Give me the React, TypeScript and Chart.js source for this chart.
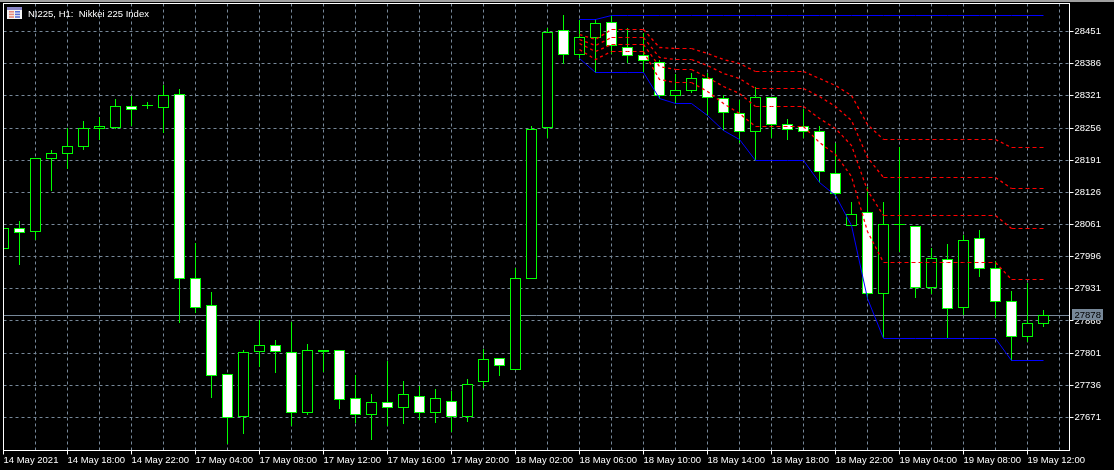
import React, { useEffect, useRef } from "react";
import { Chart, registerables } from "chart.js";

Chart.register(...registerables);

const titleText = "NI225, H1:  Nikkei 225 Index";
const lastPrice = 27878;

const opens = [28012,28052,28047,28194,28204,28218,28254,28258,28299,28301,28297,28323,27951,27897,27757,27673,27804,27816,27802,27681,27806,27806,27709,27677,27701,27692,27713,27682,27703,27672,27744,27790,27768,27952,28257,28453,28404,28438,28469,28419,28402,28388,28322,28332,28356,28316,28285,28249,28318,28263,28259,28249,28164,28059,28085,27921,28061,28057,27933,27990,27893,28033,27972,27905,27835,27861];
const closes = [28052,28045,28194,28204,28218,28255,28259,28299,28293,28301,28321,27952,27894,27756,27671,27802,27816,27804,27681,27806,27804,27707,27677,27701,27692,27717,27682,27709,27672,27738,27788,27776,27952,28253,28449,28404,28439,28467,28423,28402,28392,28322,28332,28356,28318,28287,28249,28318,28263,28253,28249,28168,28124,28081,27921,28061,28061,27934,27992,27891,28029,27972,27905,27835,27861,27877];
const highs = [28060,28068,28194,28210,28256,28270,28277,28314,28320,28308,28342,28334,28023,27924,27757,27806,27867,27827,27863,27819,27806,27806,27756,27717,27785,27744,27734,27728,27724,27748,27808,27790,27973,28260,28458,28484,28474,28475,28483,28457,28447,28392,28365,28367,28366,28322,28312,28338,28318,28274,28294,28259,28225,28106,28136,28106,28216,28057,28012,28021,28039,28049,27986,27926,27942,27887];
const lows = [28005,27981,28031,28129,28175,28213,28233,28254,28261,28296,28246,27862,27884,27711,27618,27638,27775,27761,27655,27678,27763,27690,27661,27626,27655,27658,27667,27661,27642,27662,27732,27755,27768,27952,28237,28386,28396,28369,28406,28388,28369,28316,28305,28327,28281,28251,28227,28190,28237,28232,28237,28146,28120,28059,27911,27832,28006,27913,27921,27832,27880,27955,27873,27786,27825,27855];

// indicator series start at bar 36
const indicatorStart = 36;
const blueUpper = [28475,28475,28483,28483,28483,28483,28483,28483,28483,28483,28483,28483,28483,28483,28483,28483,28483,28483,28483,28483,28483,28483,28483,28483,28483,28483,28483,28483,28483,28483];
const blueLower = [28396,28369,28369,28369,28369,28316,28305,28305,28281,28251,28233,28190,28190,28190,28190,28146,28120,28059,27911,27831,27831,27831,27831,27831,27831,27831,27831,27786,27786,27786];
const redA = [28445,28435,28455,28455,28455,28419,28417,28417,28406,28394,28386,28370,28370,28370,28370,28356,28342,28322,28264,28233,28233,28233,28233,28233,28233,28233,28233,28217,28217,28217];
const redB = [28435,28422,28439,28439,28439,28399,28394,28394,28382,28367,28356,28336,28336,28336,28336,28319,28300,28271,28197,28156,28156,28156,28156,28156,28156,28156,28156,28134,28134,28134];
const redC = [28426,28410,28425,28425,28425,28380,28374,28374,28358,28340,28325,28300,28300,28300,28300,28275,28255,28221,28130,28079,28079,28079,28079,28079,28079,28079,28079,28053,28053,28053];
const redD = [28414,28394,28411,28411,28411,28355,28348,28348,28329,28306,28285,28259,28259,28259,28259,28226,28202,28159,28046,27984,27984,27984,27984,27984,27984,27984,27984,27950,27950,27950];

const priceTicks = [28451,28386,28321,28256,28191,28126,28061,27996,27931,27866,27801,27736,27671];
const timeLabels = ["14 May 2021","14 May 18:00","14 May 22:00","17 May 04:00","17 May 08:00","17 May 12:00","17 May 16:00","17 May 20:00","18 May 02:00","18 May 06:00","18 May 10:00","18 May 14:00","18 May 18:00","18 May 22:00","19 May 04:00","19 May 08:00","19 May 12:00"];

const BULL = "#00ff00";
const GRID = "#778899";
const FONT_FAMILY = "'Liberation Sans'";
const FONT = { family: FONT_FAMILY, size: 9.5 };

const series = (vals: number[]) => vals.map((y, i) => ({ x: indicatorStart + i, y }));
const gridPositions = Array.from({ length: 34 }, (_, i) => i * 2);

const snapMarks = {
  id: "snapMarks",
  afterDatasetsUpdate(chart: any) {
    chart.data.datasets.forEach((ds: any, i: number) => {
      const els = chart.getDatasetMeta(i).data;
      if (ds.type === "bar") {
        els.forEach((el: any) => {
          const top = Math.floor(Math.min(el.y, el.base));
          const bottom = Math.floor(Math.max(el.y, el.base)) + 1;
          el.y = top;
          el.base = bottom;
        });
      } else {
        els.forEach((el: any) => {
          el.y = Math.floor(el.y) + 0.5;
        });
      }
    });
  },
};

const furniture = {
  id: "furniture",
  afterDraw(chart: any) {
    const { ctx, chartArea: a, scales } = chart;
    ctx.save();
    ctx.fillStyle = "#a0a0a0";
    ctx.fillRect(0, 0, 1114, 2);
    ctx.strokeStyle = "#ffffff";
    ctx.lineWidth = 1;
    ctx.strokeRect(3.5, 3.5, a.right - 3.5, a.bottom - 3.5);
    ctx.fillStyle = "#8a86c8";
    ctx.fillRect(7, 7, 15, 3);
    ctx.fillStyle = "#f4f4f4";
    ctx.fillRect(7, 10, 15, 9);
    ctx.fillStyle = "#e88a7c";
    for (let r = 0; r < 3; r++) ctx.fillRect(9, 11 + r * 2.6, 5, 1.6);
    ctx.fillStyle = "#5a70d8";
    for (let r = 0; r < 3; r++) ctx.fillRect(15, 11 + r * 2.6, 5, 1.6);
    ctx.fillStyle = "#ffffff";
    ctx.font = `9.5px ${FONT_FAMILY}`;
    ctx.textBaseline = "middle";
    ctx.textAlign = "left";
    ctx.fillText(titleText, 28, 14);
    const py = Math.floor(scales.y.getPixelForValue(lastPrice));
    ctx.fillStyle = GRID;
    ctx.fillRect(1072, py - 6, 31, 11);
    ctx.fillStyle = "#000000";
    ctx.fillText(String(lastPrice), 1074.5, py);
    ctx.restore();
  },
};

export default function App() {
  const ref = useRef<HTMLCanvasElement>(null);
  useEffect(() => {
    document.body.style.margin = "0";
    document.body.style.background = "#000";
    const chart = new Chart(ref.current as HTMLCanvasElement, {
      type: "bar",
      data: {
        datasets: [
          {
            type: "line",
            label: "last",
            data: [{ x: 0, y: lastPrice }, { x: 66.625, y: lastPrice }],
            borderColor: GRID,
            borderWidth: 1,
            pointRadius: 0,
            order: 6,
          },
          {
            type: "bar",
            label: "wick",
            data: highs.map((h, i) => ({ x: i, y: [lows[i], h] })),
            backgroundColor: BULL,
            borderWidth: 0,
            barThickness: 1,
            grouped: false,
            inflateAmount: 0,
            order: 5,
          },
          {
            type: "bar",
            label: "body",
            data: opens.map((o, i) => ({ x: i, y: [o, closes[i]] })),
            backgroundColor: opens.map((o, i) => (closes[i] >= o ? "#000000" : "#ffffff")),
            borderColor: BULL,
            borderWidth: 1,
            borderSkipped: false,
            barThickness: 11,
            grouped: false,
            inflateAmount: 0,
            order: 4,
          },
          ...[redA, redB, redC, redD].map((vals, k) => ({
            type: "line" as const,
            label: "fib" + k,
            data: series(vals),
            borderColor: "#ff0000",
            borderWidth: 1,
            borderDash: [4, 3],
            segment: {
              borderDash: (c: any) => (c.p0.parsed.y !== c.p1.parsed.y ? [3, 3] : [4, 3]),
              borderWidth: (c: any) => (c.p0.parsed.y !== c.p1.parsed.y ? 1.3 : 1),
            },
            pointRadius: 0,
            tension: 0,
            order: 2,
          })),
          ...[blueUpper, blueLower].map((vals, k) => ({
            type: "line" as const,
            label: "band" + k,
            data: series(vals),
            borderColor: "#0000ff",
            borderWidth: 1,
            pointRadius: 0,
            tension: 0,
            order: 1,
          })),
        ],
      } as any,
      plugins: [snapMarks, furniture],
      options: {
        animation: false,
        responsive: false,
        devicePixelRatio: 1,
        layout: { padding: { left: 3.5, top: 3.5, right: 0, bottom: 0 } },
        plugins: { legend: { display: false }, tooltip: { enabled: false }, title: { display: false } },
        scales: {
          x: {
            type: "linear",
            min: 0,
            max: 66.625,
            offset: false,
            afterBuildTicks: (s: any) => {
              s.ticks = gridPositions.map((value) => ({ value }));
            },
            afterFit: (s: any) => {
              s.height = 19.5;
              s.paddingLeft = 0;
              s.paddingRight = 0;
            },
            border: { display: true, color: "#ffffff", width: 1, dash: [3, 3] },
            grid: {
              offset: false,
              drawTicks: true,
              tickLength: 4,
              tickBorderDash: [0, 0],
              color: GRID,
              tickColor: (c: any) => (c.index % 2 === 0 ? "#ffffff" : "rgba(0,0,0,0)"),
            },
            ticks: {
              autoSkip: false,
              maxRotation: 0,
              minRotation: 0,
              align: "start",
              padding: 0,
              color: "#ffffff",
              font: FONT,
              callback: (_v: any, i: number) => (i % 2 === 0 ? timeLabels[i / 2] ?? "" : ""),
            },
          },
          y: {
            type: "linear",
            position: "right",
            min: 27604.3,
            max: 28507.6,
            afterBuildTicks: (s: any) => {
              s.ticks = priceTicks.map((value) => ({ value }));
            },
            afterFit: (s: any) => {
              s.width = 44.5;
              s.paddingTop = 0;
              s.paddingBottom = 0;
            },
            border: { display: true, color: "#ffffff", width: 1, dash: [3, 3] },
            grid: {
              drawTicks: true,
              tickLength: 4,
              tickBorderDash: [0, 0],
              color: GRID,
              tickColor: "#ffffff",
            },
            ticks: {
              autoSkip: false,
              padding: 1,
              color: "#ffffff",
              font: FONT,
              callback: (v: any) => String(v),
            },
          },
        },
      } as any,
    });
    return () => chart.destroy();
  }, []);
  return <canvas ref={ref} width={1114} height={470} style={{ display: "block", background: "#000" }} />;
}
